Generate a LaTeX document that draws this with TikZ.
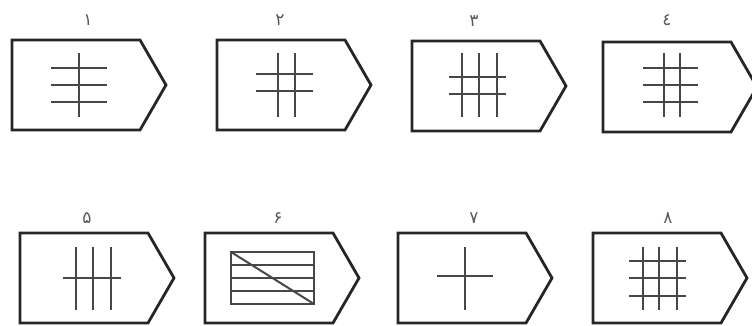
\documentclass[tikz,border=0pt]{standalone}
\usepackage{fontspec}
\newfontfamily\arabicfont[Script=Arabic]{DejaVu Sans}
\usetikzlibrary{positioning}

\begin{document}
\begin{tikzpicture}[
  x=1pt,y=-1pt,
  num/.style    ={font=\arabicfont\fontsize{17}{17}\selectfont,text=black!65,inner sep=0pt},
  outline/.style={line width=2.8pt,line join=miter,black!85},
  bar/.style    ={line width=2pt,black!72},
  tagbox/.pic   ={\draw[outline] (0,0) -- (128,0) -- (154,45) -- (128,90) -- (0,90) -- cycle;}]

  \useasboundingbox (0,0) rectangle (752,326);

  % ===== TOP ROW: tags 1 - 4 =====
  \begin{scope}[shift={(12,40)}]
    \pic {tagbox};
    \draw[bar] (67,13) -- (67,77);
    \foreach \y in {28,45,62} \draw[bar] (39,\y) -- (95,\y);
  \end{scope}
  \begin{scope}[shift={(217,40)}]
    \pic {tagbox};
    \foreach \x in {61,78} \draw[bar] (\x,13) -- (\x,77);
    \foreach \y in {34,51} \draw[bar] (39,\y) -- (96,\y);
  \end{scope}
  \begin{scope}[shift={(412,41)}]
    \pic {tagbox};
    \foreach \x in {50,67,85} \draw[bar] (\x,12) -- (\x,76);
    \foreach \y in {36,53} \draw[bar] (37,\y) -- (94,\y);
  \end{scope}
  \begin{scope}[shift={(603,42)}]
    \pic {tagbox};
    \foreach \x in {61,77} \draw[bar] (\x,11) -- (\x,75);
    \foreach \y in {26,43,60} \draw[bar] (40,\y) -- (95,\y);
  \end{scope}

  % ===== BOTTOM ROW: tags 5 - 8 =====
  \begin{scope}[shift={(20,233)}]
    \pic {tagbox};
    \foreach \x in {56,73,91} \draw[bar] (\x,14) -- (\x,77);
    \draw[bar] (43,45) -- (101,45);
  \end{scope}
  \begin{scope}[shift={(205,233)}]
    \pic {tagbox};
    \draw[bar] (26,19) rectangle (109,71);
    \foreach \y in {32,45,58} \draw[bar] (26,\y) -- (109,\y);
    \draw[bar] (26,19) -- (109,71);
  \end{scope}
  \begin{scope}[shift={(398,233)}]
    \pic {tagbox};
    \draw[bar] (67,14) -- (67,77);
    \draw[bar] (39,43) -- (95,43);
  \end{scope}
  \begin{scope}[shift={(593,233)}]
    \pic {tagbox};
    \foreach \x in {50,66,84} \draw[bar] (\x,14) -- (\x,77);
    \foreach \y in {28,45,63} \draw[bar] (36,\y) -- (93,\y);
  \end{scope}

  % ===== NUMBERS =====
  \node[num] (n1) at ( 88, 20) {١};
  \node[num] (n2) at (280, 20) {٢};
  \node[num] (n3) at (474, 21) {٣};
  \node[num] (n4) at (667, 20) {٤};
  \node[num] (n5) at ( 87,218) {۵};
  \node[num] (n6) at (278,218) {۶};
  \node[num] (n7) at (474,218) {٧};
  \node[num] (n8) at (668,218) {٨};

\end{tikzpicture}
\end{document}
